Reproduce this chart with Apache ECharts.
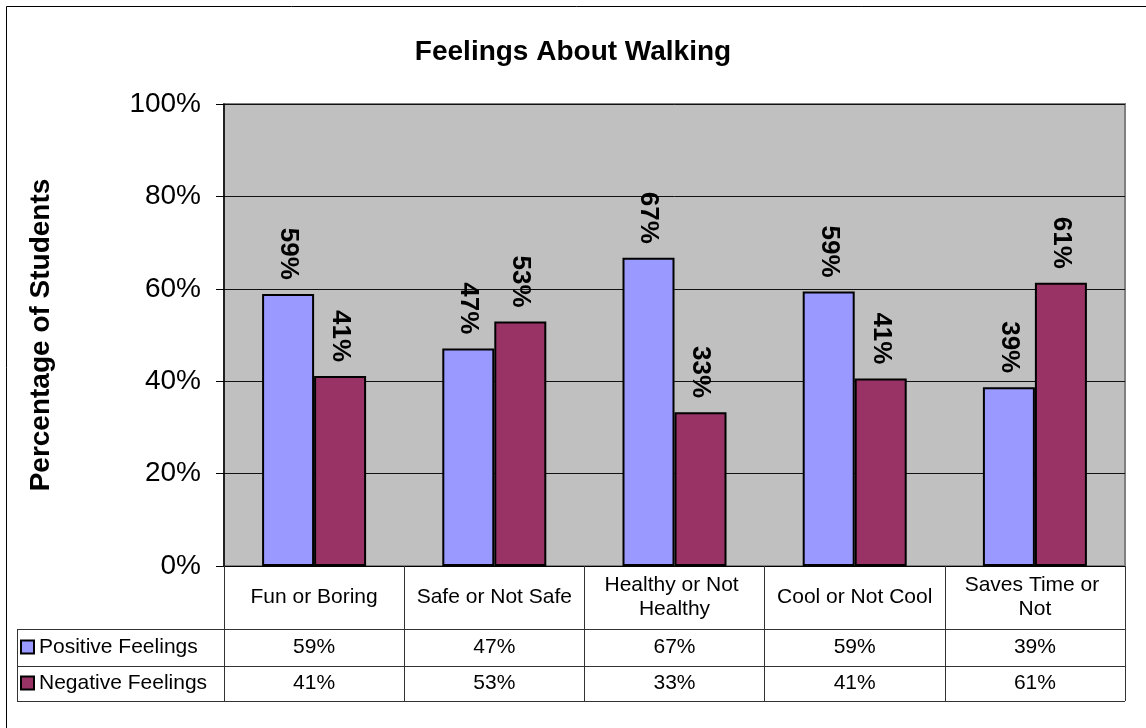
<!DOCTYPE html>
<html><head><meta charset="utf-8">
<script src="https://cdn.jsdelivr.net/npm/echarts@6/dist/echarts.min.js"></script>
<style>html,body{margin:0;padding:0;background:#fff}#c{width:1146px;height:728px}</style>
</head><body><div id="c"></div>
<script>
const categories = ['Fun or Boring', 'Safe or Not Safe', 'Healthy or Not Healthy', 'Cool or Not Cool', 'Saves Time or Not'];
const seriesNames = ['Positive Feelings', 'Negative Feelings'];
const positive = [58.9, 47.1, 66.7, 59.4, 38.7];
const negative = [41.1, 52.9, 33.3, 40.6, 61.3];
const yTicks = [0, 20, 40, 60, 80, 100];
const titleText = 'Feelings About Walking';
const yAxisTitle = 'Percentage of Students';

const FONT = '"Liberation Sans", Arial, sans-serif';
const fmt = v => Math.round(v) + '%';
const G = { left: 224, top: 104, right: 1125, bottom: 566 };
const rowCat = 63, row1 = 37, row2 = 35;
const tableLeft = 17;
const y1 = G.bottom + rowCat, y2 = y1 + row1, y3 = y2 + row2;

const chart = echarts.init(document.getElementById('c'), null, { renderer: 'canvas' });

const barLabel = {
  show: true, position: 'top', rotate: -90, align: 'right', verticalAlign: 'middle',
  distance: 14, formatter: p => fmt(p.value),
  fontFamily: FONT, fontSize: 26, fontWeight: 'bold', color: '#000'
};

const hLine = (y) => ({ type: 'line', shape: { x1: tableLeft, y1: y + 0.5, x2: G.right, y2: y + 0.5 }, style: { stroke: '#333', lineWidth: 1 }, z: 100 });

chart.setOption({
  animation: false,
  backgroundColor: '#fff',
  textStyle: { fontFamily: FONT },
  title: {
    text: titleText, left: 'center', top: 33,
    textStyle: { fontFamily: FONT, fontSize: 28, fontWeight: 'bold', color: '#000' }
  },
  legend: {
    data: seriesNames, orient: 'vertical', left: 20, top: G.bottom + rowCat + 6, padding: 0,
    itemWidth: 13, itemHeight: 13, itemGap: 12, icon: 'rect', selectedMode: false,
    textStyle: { fontFamily: FONT, fontSize: 21, color: '#000', lineHeight: 24 }
  },
  grid: {
    left: G.left, top: G.top, width: G.right - G.left, height: G.bottom - G.top,
    show: true, backgroundColor: '#c0c0c0', borderColor: '#808080', borderWidth: 2
  },
  xAxis: [
    {
      type: 'category', data: categories, position: 'bottom',
      axisLine: { show: true, lineStyle: { color: '#000', width: 1 } },
      axisTick: { show: true, length: rowCat, interval: 0, lineStyle: { color: '#333', width: 1 } },
      axisLabel: {
        interval: 0, fontFamily: FONT, fontSize: 21, color: '#000', width: 164, overflow: 'break',
        lineHeight: 24, verticalAlign: 'middle', margin: rowCat / 2
      }
    },
    {
      type: 'category', data: categories, position: 'bottom', offset: rowCat,
      axisLine: { show: false },
      axisTick: { show: true, length: row1 + row2, interval: 0, lineStyle: { color: '#333', width: 1 } },
      axisLabel: {
        interval: 0, fontFamily: FONT, fontSize: 21, color: '#000', verticalAlign: 'middle',
        margin: row1 / 2, formatter: (v, i) => fmt(positive[i])
      }
    },
    {
      type: 'category', data: categories, position: 'bottom', offset: rowCat + row1,
      axisLine: { show: false }, axisTick: { show: false },
      axisLabel: {
        interval: 0, fontFamily: FONT, fontSize: 21, color: '#000', verticalAlign: 'middle',
        margin: row2 / 2, formatter: (v, i) => fmt(negative[i])
      }
    }
  ],
  yAxis: {
    type: 'value', min: yTicks[0], max: yTicks[yTicks.length - 1], interval: yTicks[1] - yTicks[0],
    name: yAxisTitle, nameLocation: 'middle', nameGap: 169, nameRotate: 90,
    nameTextStyle: { fontFamily: FONT, fontSize: 28, fontWeight: 'bold', color: '#000' },
    axisLine: { show: true, lineStyle: { color: '#000', width: 1.5 } },
    axisTick: { show: true, length: 8, lineStyle: { color: '#000' } },
    axisLabel: { formatter: '{value}%', fontFamily: FONT, fontSize: 28, color: '#000', margin: 23 },
    splitLine: { show: true, lineStyle: { color: '#111', width: 1 } }
  },
  series: [
    {
      name: seriesNames[0], type: 'bar', data: positive, barWidth: 52, barGap: '0%',
      itemStyle: { color: '#9999ff', borderColor: '#000', borderWidth: 2 },
      label: barLabel
    },
    {
      name: seriesNames[1], type: 'bar', data: negative, barWidth: 52, barGap: '0%',
      itemStyle: { color: '#993366', borderColor: '#000', borderWidth: 2 },
      label: barLabel
    }
  ],
  graphic: [
    { type: 'rect', shape: { x: 6.5, y: 6.5, width: 1160, height: 760 }, style: { fill: 'none', stroke: '#000', lineWidth: 1 }, z: 100 },
    hLine(y1), hLine(y2), hLine(y3),
    { type: 'line', shape: { x1: tableLeft + 0.5, y1: y1, x2: tableLeft + 0.5, y2: y3 + 1 }, style: { stroke: '#333', lineWidth: 1 }, z: 100 }
  ]
});
</script></body></html>
